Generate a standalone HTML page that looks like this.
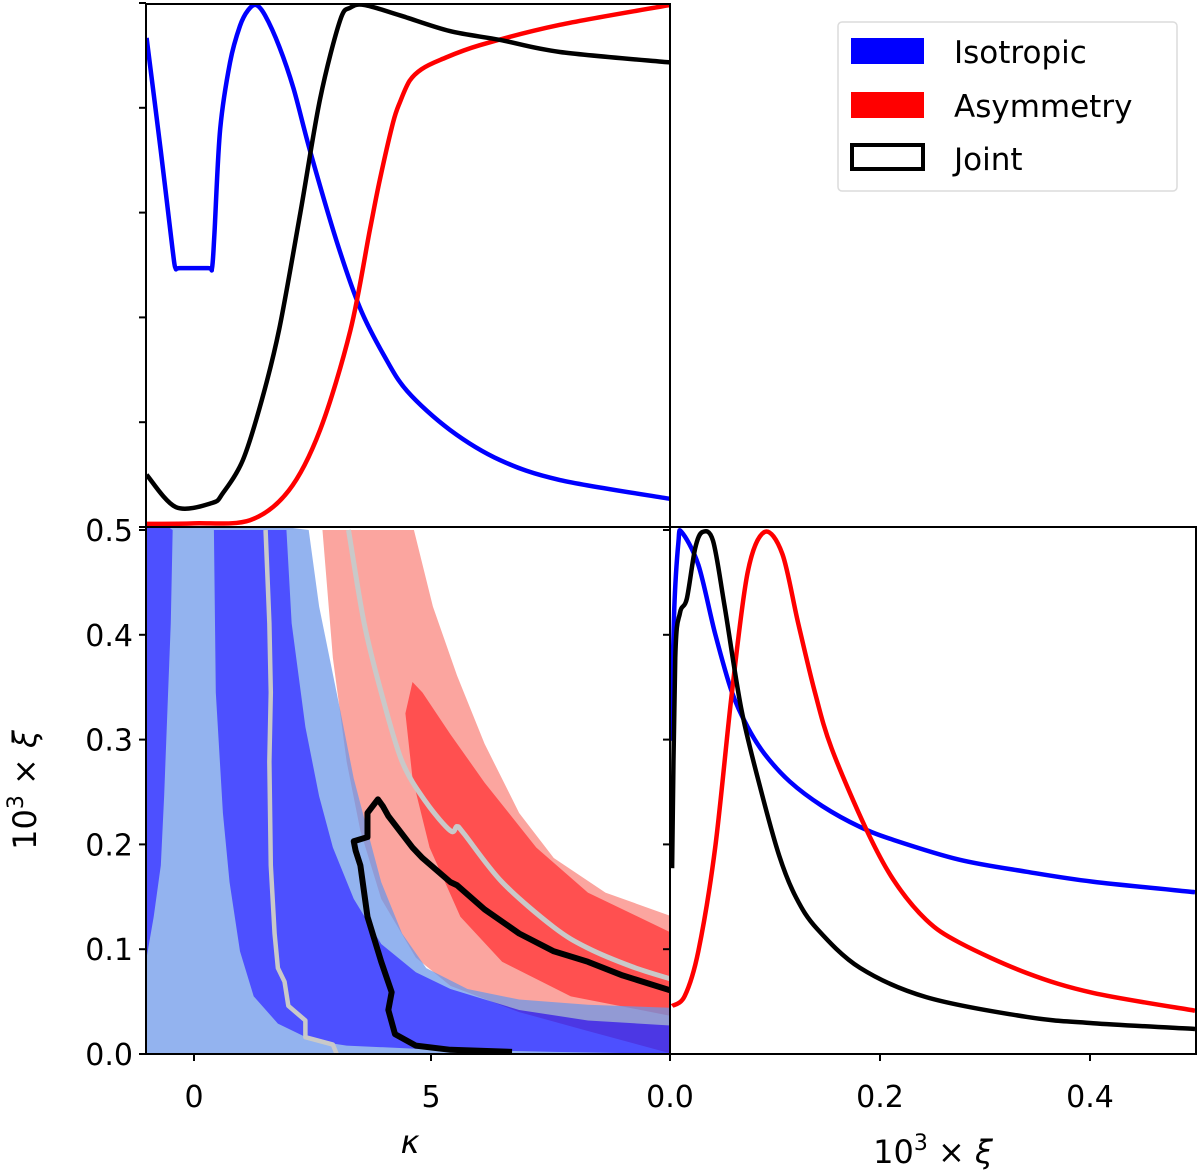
<!DOCTYPE html>
<html><head><meta charset="utf-8"><style>
body{margin:0;background:#fff}
svg{display:block;font-family:"DejaVu Sans","Liberation Sans",sans-serif}
</style></head><body>
<svg id="chart" width="1200" height="1171" viewBox="0 0 1200 1171">
<defs>
<clipPath id="cTL"><rect x="146" y="3" width="524" height="524"/></clipPath>
<clipPath id="cBL"><rect x="146" y="527" width="524" height="527"/></clipPath>
<clipPath id="cBR"><rect x="670" y="527" width="526" height="527"/></clipPath>
</defs>
<g id="layer"></g>
</svg>
<script>
// ---------- data (kappa, xi) ----------
const isoK = [-1,-0.7,-0.45,-0.39,-0.3,0.3,0.38,0.43,0.55,0.76,0.97,1.14,1.31,1.5,1.8,2.1,2.45,3.0,3.5,4.0,4.5,5.4,6.46,7.72,10.04];
const isoV = [0.937,0.72,0.53,0.496,0.496,0.496,0.496,0.56,0.76,0.89,0.96,0.99,1.0,0.98,0.92,0.84,0.72,0.55,0.42,0.33,0.26,0.186,0.128,0.09,0.054];
const asyK = [-1,0,1.18,2.0,2.66,3.3,3.71,3.92,4.2,4.35,4.55,4.8,5.2,6.03,7.72,10.04];
const asyV = [0.006,0.007,0.013,0.07,0.186,0.377,0.569,0.665,0.775,0.815,0.855,0.877,0.895,0.923,0.962,1.0];
const jntK = [-1,-0.38,0.38,0.61,1.03,1.43,1.8,2.24,2.66,3.08,3.3,3.6,4.35,5.4,6.46,7.72,10.04];
const jntV = [0.10,0.038,0.046,0.065,0.128,0.243,0.38,0.60,0.82,0.97,0.995,1.0,0.98,0.95,0.933,0.91,0.89];

const isoXi = [0.001,0.004,0.008,0.011,0.027,0.043,0.059,0.074,0.090,0.114,0.145,0.181,0.213,0.276,0.34,0.403,0.5];
const isoXiV = [0.6,0.85,0.98,1.0,0.937,0.805,0.693,0.626,0.575,0.522,0.475,0.435,0.41,0.372,0.349,0.33,0.31];
const asyXi = [0.002,0.014,0.027,0.043,0.059,0.074,0.090,0.107,0.122,0.138,0.154,0.187,0.213,0.244,0.276,0.34,0.403,0.5];
const asyXiV = [0.092,0.111,0.197,0.395,0.693,0.923,1.0,0.958,0.826,0.693,0.585,0.43,0.333,0.257,0.213,0.155,0.117,0.083];
const jntXi = [0.002,0.005,0.0095,0.016,0.024,0.031,0.041,0.052,0.068,0.086,0.104,0.12,0.14,0.181,0.244,0.34,0.403,0.5];
const jntXiV = [0.356,0.759,0.845,0.872,0.969,1.0,0.983,0.858,0.66,0.51,0.38,0.30,0.24,0.165,0.109,0.071,0.059,0.048];

// contours [kappa, xi]
const lightBlueOuter = [[2.42,0.5],[2.64,0.427],[2.86,0.378],[3.08,0.329],[3.37,0.263],[3.66,0.213],[3.95,0.164],[4.39,0.115],[4.9,0.082],[5.77,0.062],[6.86,0.052],[8.31,0.047],[10.1,0.044]];
const holeLeft = [[-0.45,0.5],[-0.49,0.411],[-0.56,0.329],[-0.63,0.246],[-0.70,0.18],[-0.85,0.131],[-1.0,0.092]];
const holeRight = [[0.42,0.5],[0.46,0.345],[0.61,0.23],[0.75,0.164],[0.97,0.098],[1.26,0.055],[1.77,0.029],[2.5,0.013],[3.22,0.008],[4.68,0.005],[7.59,0.002]];
const darkOuter = [[1.95,0.5],[2.06,0.411],[2.35,0.312],[2.64,0.246],[2.93,0.197],[3.37,0.148],[3.95,0.105],[4.68,0.078],[5.41,0.062],[6.86,0.042],[8.31,0.032],[10.1,0.027]];
const pinkOuter = [[4.64,0.5],[5.04,0.427],[5.55,0.361],[6.13,0.296],[6.86,0.23],[7.59,0.187],[8.68,0.154],[10.1,0.131]];
const pinkInner = [[2.71,0.5],[2.93,0.378],[3.22,0.279],[3.51,0.213],[3.95,0.148],[4.68,0.092],[5.41,0.065],[6.86,0.040],[8.31,0.022],[10.1,0.0]];
const redLower = [[4.61,0.355],[4.46,0.325],[4.61,0.263],[4.97,0.197],[5.62,0.131],[6.5,0.088],[7.95,0.055],[10.1,0.036]];
const redUpper = [[4.61,0.355],[4.82,0.345],[5.41,0.305],[6.13,0.259],[7.22,0.197],[8.31,0.154],[10.1,0.115]];
const isoRidge = [[1.51,0.5],[1.59,0.411],[1.62,0.345],[1.59,0.279],[1.62,0.18],[1.70,0.115],[1.77,0.082],[1.91,0.069],[1.99,0.046],[2.35,0.032],[2.35,0.016],[2.93,0.009],[3.01,0.0]];
const asyRidge = [[3.26,0.5],[3.59,0.411],[3.95,0.345],[4.39,0.279],[4.9,0.24],[5.41,0.213],[5.55,0.217],[5.70,0.21],[6.5,0.164],[7.59,0.121],[8.31,0.101],[9.26,0.083],[10.1,0.071]];
const jointContour = [[6.71,0.002],[5.41,0.004],[4.68,0.008],[4.24,0.019],[4.10,0.042],[4.17,0.059],[3.95,0.088],[3.66,0.131],[3.51,0.18],[3.41,0.194],[3.37,0.203],[3.66,0.207],[3.66,0.23],[3.88,0.243],[3.99,0.236],[4.10,0.227],[4.61,0.197],[4.82,0.187],[5.41,0.164],[5.55,0.161],[6.13,0.138],[6.86,0.115],[7.59,0.098],[8.31,0.088],[9.04,0.075],[10.1,0.06]];

const xiTicks = [0,0.1,0.2,0.3,0.4,0.5];
const xiTickLabels = ["0.0","0.1","0.2","0.3","0.4","0.5"];
const kTicks = [0,5];
const kTickLabels = ["0","5"];
const xi2Ticks = [0,0.2,0.4];
const xi2TickLabels = ["0.0","0.2","0.4"];

// ---------- axes ----------
const X = k => 194 + 47.4*k;
const Y = xi => 1054 - 1048*xi;
const Y1 = v => 527 - 522*v;
const X2 = xi => 670 + 1050*xi;
const Y2 = v => 1054 - 522*v;

const NS = "http://www.w3.org/2000/svg";
const layer = document.getElementById('layer');
function mk(tag, attrs, parent){
  const e = document.createElementNS(NS, tag);
  for (const a in attrs) e.setAttribute(a, attrs[a]);
  (parent||layer).appendChild(e);
  return e;
}
function smooth(pts){
  let d = `M${pts[0][0]},${pts[0][1]}`;
  for (let i=0;i<pts.length-1;i++){
    const p0=pts[Math.max(0,i-1)], p1=pts[i], p2=pts[i+1], p3=pts[Math.min(pts.length-1,i+2)];
    const t=0.16;
    d += ` C${p1[0]+(p2[0]-p0[0])*t},${p1[1]+(p2[1]-p0[1])*t} ${p2[0]-(p3[0]-p1[0])*t},${p2[1]-(p3[1]-p1[1])*t} ${p2[0]},${p2[1]}`;
  }
  return d;
}
function poly(pts){ return 'M' + pts.map(p=>p[0]+','+p[1]).join(' L') + ' Z'; }
const P = arr => arr.map(p=>[X(p[0]),Y(p[1])]);

// ---------- bottom-left 2D ----------
const gBL = mk('g', {'clip-path':'url(#cBL)'});


let e;
e = mk('path', {d: poly(P([...pinkInner, [10.2,0.0],[10.2,0.2], ...pinkOuter.slice().reverse()])), fill:'#fba59f'}, gBL);


e = mk('path', {d: poly(P([...redLower, ...redUpper.slice(1).reverse()])), fill:'#ff5050'}, gBL);


const gBlue = mk('g', {opacity:'0.72'}, gBL);
e = mk('path', {d: poly(P([[-1.1,0.52], ...lightBlueOuter, [10.2,0.044],[10.2,-0.01],[-1.1,-0.01]])), fill:'#6a97e9'}, gBlue);


e = mk('path', {d: poly(P([[-1.1,0.52], ...holeLeft, [-1.1,0.09]])), fill:'#0a0dff'}, gBlue);


e = mk('path', {d: poly(P([...holeRight, [10.2,0.0],[10.2,0.027], ...darkOuter.slice().reverse()])), fill:'#0a0dff'}, gBlue);


e = mk('path', {d: 'M'+P(isoRidge).map(p=>p.join(',')).join(' L'), fill:'none', stroke:'#c9c9c9', 'stroke-width':4.5, 'stroke-linejoin':'round'}, gBL);


e = mk('path', {d: smooth(P(asyRidge)), fill:'none', stroke:'#c9c9c9', 'stroke-width':5}, gBL);


e = mk('path', {d: 'M'+P(jointContour).map(p=>p.join(',')).join(' L'), fill:'none', stroke:'#000', 'stroke-width':6, 'stroke-linejoin':'round'}, gBL);



// ---------- top-left 1D ----------
const gTL = mk('g', {'clip-path':'url(#cTL)'});


function line1(ks, vs, fx, fy, color, name, g, lin){
  const pts = ks.map((k,i)=>[fx(k), fy(vs[i])]);
  const el = mk('path', {d: lin ? 'M'+pts.map(p=>p.join(',')).join(' L') : smooth(pts), fill:'none', stroke:color, 'stroke-width':4.5, 'stroke-linejoin':'round'}, g);
  
  
}
line1(isoK, isoV, X, Y1, '#0000ff', 'isotropic-kappa-curve', gTL);
line1(asyK, asyV, X, Y1, '#ff0000', 'asymmetry-kappa-curve', gTL);
line1(jntK, jntV, X, Y1, '#000000', 'joint-kappa-curve', gTL);

// ---------- bottom-right 1D ----------
const gBR = mk('g', {'clip-path':'url(#cBR)'});


line1(isoXi, isoXiV, X2, Y2, '#0000ff', 'isotropic-xi-curve', gBR);
line1(asyXi, asyXiV, X2, Y2, '#ff0000', 'asymmetry-xi-curve', gBR);
line1(jntXi, jntXiV, X2, Y2, '#000000', 'joint-xi-curve', gBR);

// ---------- frames & ticks ----------
function frame(x,y,w,h,name){
  const r = mk('rect', {x:x, y:y, width:w, height:h, fill:'none', stroke:'#000', 'stroke-width':2});
  
  
}
frame(146,4,524,523,'kappa-marginal-frame');
frame(146,527,524,527,'contour-frame');
frame(670,527,526,527,'xi-marginal-frame');
function txt(x,y,s,anchor,size,name){
  const t = mk('text', {x:x, y:y, 'text-anchor':anchor, 'font-size':size, fill:'#000'});
  t.textContent = s;
  
  
  return t;
}
xiTicks.forEach((v,i)=>{
  const yy = Y(v);
  let t = mk('line', {x1:139, x2:146, y1:yy, y2:yy, stroke:'#000', 'stroke-width':2});
  
  
  t = mk('line', {x1:663, x2:670, y1:yy, y2:yy, stroke:'#000', 'stroke-width':2});
  
  
  txt(133, yy+11, xiTickLabels[i], 'end', 30, 'y-tick-label');
  const y1 = 527 - (1054-yy);
  t = mk('line', {x1:139, x2:146, y1:y1, y2:y1, stroke:'#000', 'stroke-width':2});
  
  
});
kTicks.forEach((k,i)=>{
  const t = mk('line', {x1:X(k), x2:X(k), y1:1054, y2:1061, stroke:'#000', 'stroke-width':2});
  
  
  txt(X(k), 1107, kTickLabels[i], 'middle', 30, 'x-tick-label');
});
xi2Ticks.forEach((v,i)=>{
  const t = mk('line', {x1:X2(v), x2:X2(v), y1:1054, y2:1061, stroke:'#000', 'stroke-width':2});
  
  
  txt(X2(v), 1107, xi2TickLabels[i], 'middle', 30, 'xi-x-tick-label');
});
const kl = txt(410, 1153, 'κ', 'middle', 32, 'x-axis-title');
kl.setAttribute('font-style','italic');
const xl = txt(933, 1163, '', 'middle', 32, 'xi-axis-title');
xl.innerHTML = '10<tspan dy="-13" font-size="22">3</tspan><tspan dy="13"> × </tspan><tspan font-style="italic">ξ</tspan>';
const yl = mk('text', {x:0, y:0, 'text-anchor':'middle', 'font-size':32, transform:'translate(36,790) rotate(-90)'});
yl.innerHTML = '10<tspan dy="-13" font-size="22">3</tspan><tspan dy="13"> × </tspan><tspan font-style="italic">ξ</tspan>';



// ---------- legend ----------
const lg = mk('g', {});


let r = mk('rect', {x:838, y:22, width:339, height:169, rx:4, fill:'#fff', stroke:'#dcdcdc', 'stroke-width':1.5}, lg);


r = mk('rect', {x:851, y:38, width:73, height:26, fill:'#0000ff'}, lg);


r = mk('rect', {x:851, y:92, width:73, height:26, fill:'#ff0000'}, lg);


r = mk('rect', {x:852, y:145, width:71, height:24, fill:'#fff', stroke:'#000', 'stroke-width':4}, lg);


let t = txt(954, 63, 'Isotropic', 'start', 31, 'legend-isotropic-label'); lg.appendChild(t);
t = txt(954, 117, 'Asymmetry', 'start', 31, 'legend-asymmetry-label'); lg.appendChild(t);
t = txt(954, 170, 'Joint', 'start', 31, 'legend-joint-label'); lg.appendChild(t);
</script>
</body></html>
